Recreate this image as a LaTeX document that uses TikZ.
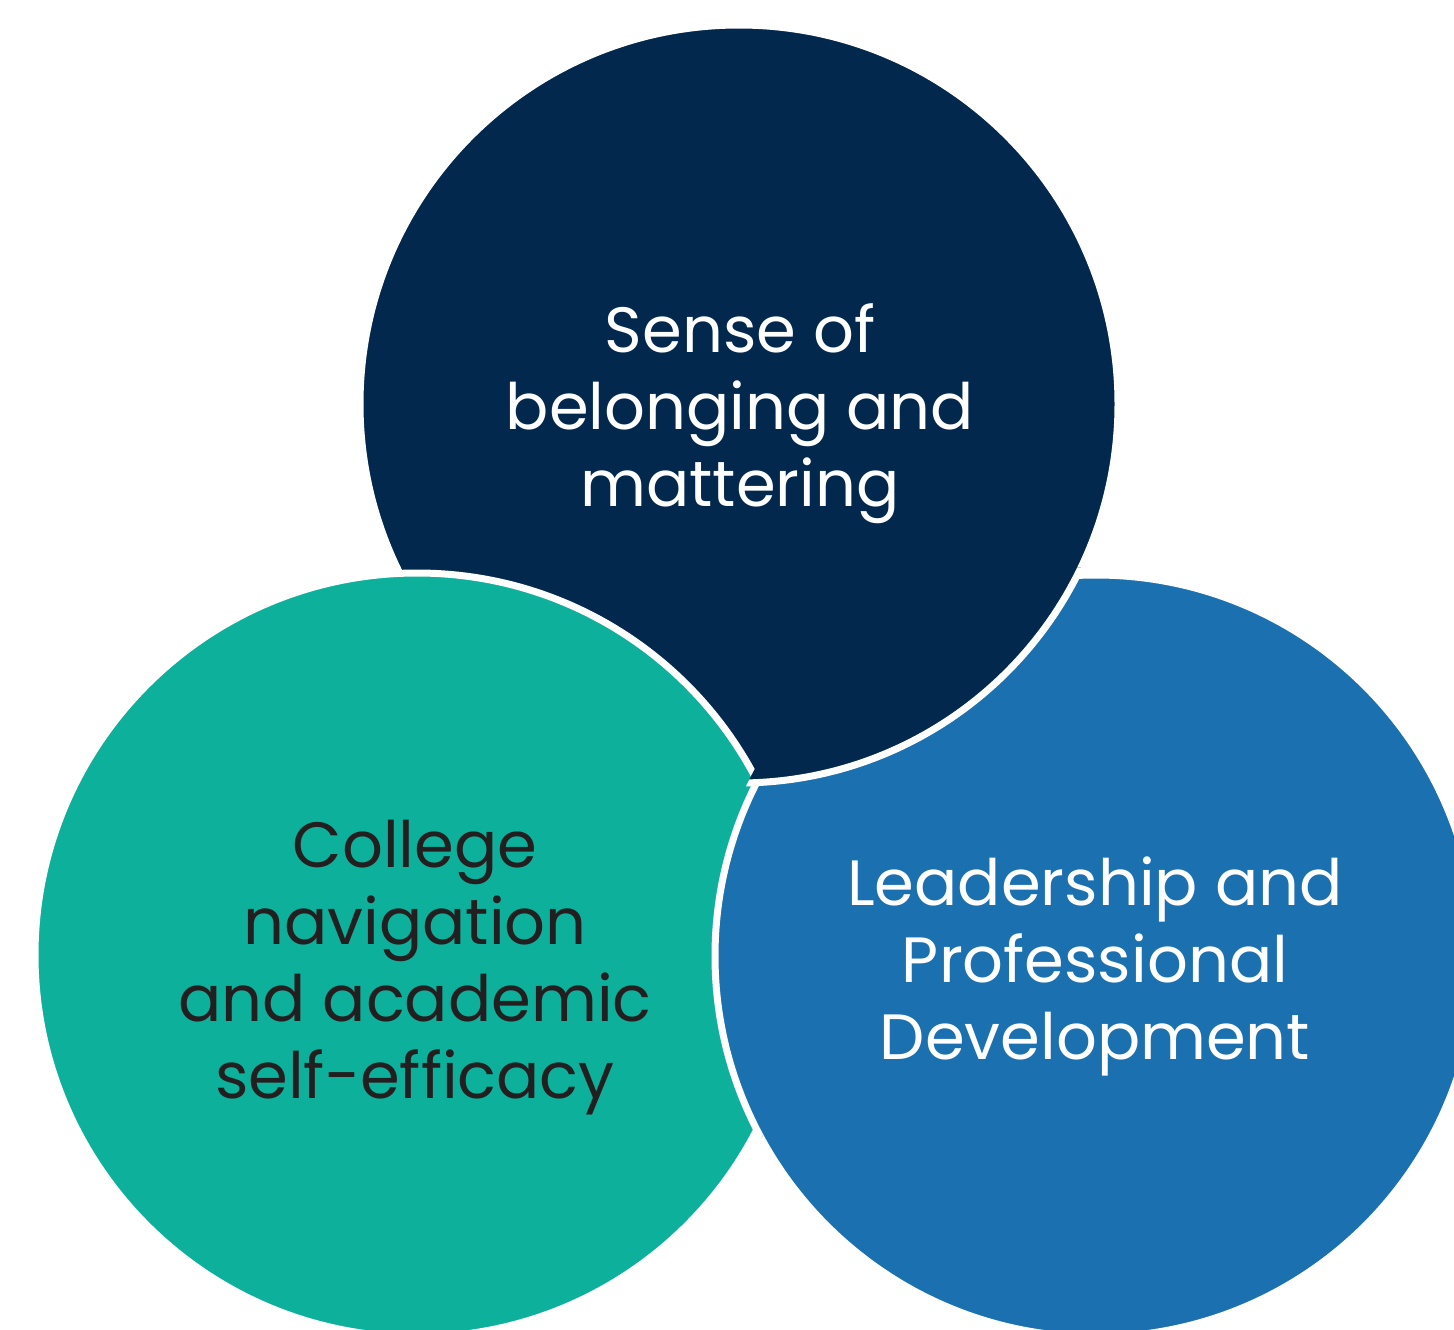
\documentclass[tikz,border=0pt]{standalone}
\usepackage{fontspec}
\setmainfont{Poppins}
\definecolor{navyc}{HTML}{03284D}
\definecolor{bluec}{HTML}{1B70B0}
\definecolor{tealc}{HTML}{0DB09B}
\definecolor{darktxt}{HTML}{231F20}
\tikzset{
  disc/.style={line width=7pt, draw=white},
  lbl/.style={align=center, font=\fontsize{64}{77}\selectfont, inner sep=0pt},
}
\begin{document}
\begin{tikzpicture}[x=1pt,y=-1pt]
\useasboundingbox (0,0) rectangle (1454,1330);
\begin{scope}
\clip (0,0) rectangle (1454,1330);
% base order
\draw[disc, fill=navyc] (739,404) circle (379);
\draw[disc, fill=bluec] (1096,956) circle (381);
\draw[disc, fill=tealc] (417,955) circle (382);
% blue over teal
\begin{scope}
  \clip (417,955) circle (390);
  \draw[disc, fill=bluec] (1096,956) circle (381);
\end{scope}
% navy over blue
\begin{scope}
  \clip (1096,956) circle (389);
  \draw[disc, fill=navyc] (739,404) circle (379);
\end{scope}
\end{scope}
\node[lbl, text=white] (t1) at (740,414) {Sense of\\belonging and\\mattering};
\node[lbl, text=darktxt] (t2) at (415,968) {College\\navigation\\and academic\\self-efficacy};
\node[lbl, text=white] (t3) at (1095,966) {Leadership and\\Professional\\Development};
\end{tikzpicture}
\end{document}
